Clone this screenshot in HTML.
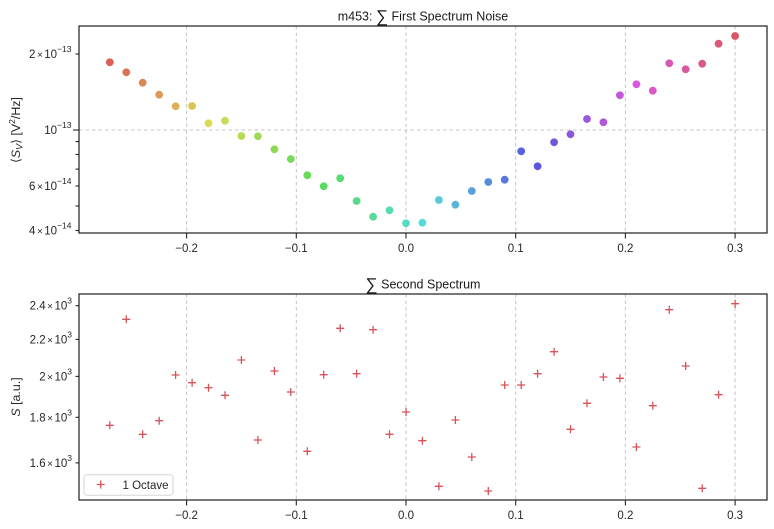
<!DOCTYPE html>
<html><head><meta charset="utf-8"><style>
html,body{margin:0;padding:0;background:#fff;}
svg{display:block;font-family:"Liberation Sans",Arial,sans-serif;}
</style></head><body>
<svg width="774" height="529" viewBox="0 0 774 529" xmlns="http://www.w3.org/2000/svg">
<rect width="774" height="529" fill="#fff"/>
<!-- ===== TOP AXES ===== -->
<g stroke="#c4c4c4" stroke-width="1" stroke-dasharray="3.5,3" fill="none">
<line x1="186.6" y1="26" x2="186.6" y2="233"/>
<line x1="296.3" y1="26" x2="296.3" y2="233"/>
<line x1="406" y1="26" x2="406" y2="233"/>
<line x1="515.7" y1="26" x2="515.7" y2="233"/>
<line x1="625.4" y1="26" x2="625.4" y2="233"/>
<line x1="735.1" y1="26" x2="735.1" y2="233"/>
<line x1="79" y1="130" x2="767" y2="130"/>
</g>
<g>
<circle cx="109.8" cy="62.3" r="3.9" fill="hsl(3.6,65%,60%)"/>
<circle cx="126.3" cy="72.3" r="3.9" fill="hsl(12.8,65%,60%)"/>
<circle cx="142.7" cy="82.7" r="3.9" fill="hsl(22.1,65%,60%)"/>
<circle cx="159.2" cy="94.7" r="3.9" fill="hsl(31.3,65%,60%)"/>
<circle cx="175.6" cy="106.3" r="3.9" fill="hsl(40.5,65%,60%)"/>
<circle cx="192.1" cy="106" r="3.9" fill="hsl(49.8,65%,60%)"/>
<circle cx="208.5" cy="123.3" r="3.9" fill="hsl(59.0,65%,60%)"/>
<circle cx="225.0" cy="120.7" r="3.9" fill="hsl(68.2,65%,60%)"/>
<circle cx="241.4" cy="136" r="3.9" fill="hsl(77.4,65%,60%)"/>
<circle cx="257.9" cy="136.3" r="3.9" fill="hsl(86.7,65%,60%)"/>
<circle cx="274.4" cy="149.3" r="3.9" fill="hsl(95.9,65%,60%)"/>
<circle cx="290.8" cy="159" r="3.9" fill="hsl(105.1,65%,60%)"/>
<circle cx="307.3" cy="175.3" r="3.9" fill="hsl(114.4,65%,60%)"/>
<circle cx="323.7" cy="186.3" r="3.9" fill="hsl(123.6,65%,60%)"/>
<circle cx="340.2" cy="178.3" r="3.9" fill="hsl(132.8,65%,60%)"/>
<circle cx="356.6" cy="201" r="3.9" fill="hsl(142.1,65%,60%)"/>
<circle cx="373.1" cy="216.7" r="3.9" fill="hsl(151.3,65%,60%)"/>
<circle cx="389.5" cy="210.3" r="3.9" fill="hsl(160.5,65%,60%)"/>
<circle cx="406.0" cy="223.3" r="3.9" fill="hsl(169.8,65%,60%)"/>
<circle cx="422.4" cy="222.7" r="3.9" fill="hsl(179.0,65%,60%)"/>
<circle cx="438.9" cy="200" r="3.9" fill="hsl(188.2,65%,60%)"/>
<circle cx="455.4" cy="204.7" r="3.9" fill="hsl(197.5,65%,60%)"/>
<circle cx="471.8" cy="191" r="3.9" fill="hsl(206.7,65%,60%)"/>
<circle cx="488.3" cy="182" r="3.9" fill="hsl(215.9,65%,60%)"/>
<circle cx="504.7" cy="179.7" r="3.9" fill="hsl(225.1,65%,60%)"/>
<circle cx="521.2" cy="151.3" r="3.9" fill="hsl(234.4,65%,60%)"/>
<circle cx="537.6" cy="166.3" r="3.9" fill="hsl(243.6,65%,60%)"/>
<circle cx="554.1" cy="142.3" r="3.9" fill="hsl(252.8,65%,60%)"/>
<circle cx="570.5" cy="134.3" r="3.9" fill="hsl(262.1,65%,60%)"/>
<circle cx="587.0" cy="119" r="3.9" fill="hsl(271.3,65%,60%)"/>
<circle cx="603.4" cy="122.3" r="3.9" fill="hsl(280.5,65%,60%)"/>
<circle cx="619.9" cy="95.3" r="3.9" fill="hsl(289.8,65%,60%)"/>
<circle cx="636.4" cy="84.3" r="3.9" fill="hsl(299.0,65%,60%)"/>
<circle cx="652.8" cy="90.7" r="3.9" fill="hsl(308.2,65%,60%)"/>
<circle cx="669.3" cy="63.3" r="3.9" fill="hsl(317.5,65%,60%)"/>
<circle cx="685.7" cy="69.3" r="3.9" fill="hsl(326.7,65%,60%)"/>
<circle cx="702.2" cy="63.7" r="3.9" fill="hsl(335.9,65%,60%)"/>
<circle cx="718.6" cy="43.7" r="3.9" fill="hsl(345.2,65%,60%)"/>
<circle cx="735.1" cy="36" r="3.9" fill="hsl(354.4,65%,60%)"/>
</g>
<rect x="79" y="26" width="688" height="207" fill="none" stroke="#262626" stroke-width="1.25"/>
<g stroke="#262626" stroke-width="1.1">
<line x1="186.6" y1="233" x2="186.6" y2="238.5"/>
<line x1="296.3" y1="233" x2="296.3" y2="238.5"/>
<line x1="406" y1="233" x2="406" y2="238.5"/>
<line x1="515.7" y1="233" x2="515.7" y2="238.5"/>
<line x1="625.4" y1="233" x2="625.4" y2="238.5"/>
<line x1="735.1" y1="233" x2="735.1" y2="238.5"/>
<line x1="73" y1="130" x2="79" y2="130"/>
<line x1="75.5" y1="54" x2="79" y2="54"/>
<line x1="75.5" y1="141.6" x2="79" y2="141.6"/>
<line x1="75.5" y1="154.5" x2="79" y2="154.5"/>
<line x1="75.5" y1="169.1" x2="79" y2="169.1"/>
<line x1="75.5" y1="186" x2="79" y2="186"/>
<line x1="75.5" y1="206" x2="79" y2="206"/>
<line x1="75.5" y1="230.5" x2="79" y2="230.5"/>
</g>
<g fill="#262626" font-size="11.5" text-anchor="middle">
<text x="186.6" y="252">−0.2</text>
<text x="296.3" y="252">−0.1</text>
<text x="406" y="252">0.0</text>
<text x="515.7" y="252">0.1</text>
<text x="625.4" y="252">0.2</text>
<text x="735.1" y="252">0.3</text>
</g>
<g fill="#262626" font-size="11.5" text-anchor="end">
<text x="71.5" y="58">2<tspan dx="1.5" font-size="10">×</tspan><tspan dx="1.5">10</tspan><tspan dy="-6" font-size="8.5">−13</tspan></text>
<text x="71.5" y="134">10<tspan dy="-6" font-size="8.5">−13</tspan></text>
<text x="71.5" y="190">6<tspan dx="1.5" font-size="10">×</tspan><tspan dx="1.5">10</tspan><tspan dy="-6" font-size="8.5">−14</tspan></text>
<text x="71.5" y="234.5">4<tspan dx="1.5" font-size="10">×</tspan><tspan dx="1.5">10</tspan><tspan dy="-6" font-size="8.5">−14</tspan></text>
</g>
<text transform="translate(20,130) rotate(-90)" text-anchor="middle" fill="#262626" font-size="12.4">⟨<tspan font-style="italic">S</tspan><tspan font-size="9" dy="2.5" font-style="italic">V</tspan><tspan dy="-2.5">⟩ [V</tspan><tspan font-size="8.5" dy="-5">2</tspan><tspan dy="5">/Hz]</tspan></text>
<text x="423" y="20.5" text-anchor="middle" fill="#1a1a1a" font-size="12.5">m453: <tspan font-size="17" dy="1.5">∑</tspan><tspan dy="-1.5"> First Spectrum Noise</tspan></text>

<!-- ===== BOTTOM AXES ===== -->
<g stroke="#c4c4c4" stroke-width="1" stroke-dasharray="3.5,3" fill="none">
<line x1="186.6" y1="294" x2="186.6" y2="500"/>
<line x1="296.3" y1="294" x2="296.3" y2="500"/>
<line x1="406" y1="294" x2="406" y2="500"/>
<line x1="515.7" y1="294" x2="515.7" y2="500"/>
<line x1="625.4" y1="294" x2="625.4" y2="500"/>
<line x1="735.1" y1="294" x2="735.1" y2="500"/>
</g>
<path fill="none" stroke="#d9535a" stroke-width="1.3" d="
M105.8 425.3h8M109.8 421.3v8
M122.3 319.3h8M126.3 315.3v8
M138.7 434.3h8M142.7 430.3v8
M155.2 420.7h8M159.2 416.7v8
M171.6 375h8M175.6 371v8
M188.1 382.7h8M192.1 378.7v8
M204.5 387.7h8M208.5 383.7v8
M221.0 395.3h8M225.0 391.3v8
M237.4 360h8M241.4 356v8
M253.9 440h8M257.9 436v8
M270.4 371h8M274.4 367v8
M286.8 392h8M290.8 388v8
M303.3 451.3h8M307.3 447.3v8
M319.7 374.7h8M323.7 370.7v8
M336.2 328.3h8M340.2 324.3v8
M352.6 373.7h8M356.6 369.7v8
M369.1 329.7h8M373.1 325.7v8
M385.5 434.3h8M389.5 430.3v8
M402.0 412h8M406.0 408v8
M418.4 440.7h8M422.4 436.7v8
M434.9 486.3h8M438.9 482.3v8
M451.4 420h8M455.4 416v8
M467.8 457h8M471.8 453v8
M484.3 491h8M488.3 487v8
M500.7 385h8M504.7 381v8
M517.2 385h8M521.2 381v8
M533.6 373.7h8M537.6 369.7v8
M550.1 351.7h8M554.1 347.7v8
M566.5 429.3h8M570.5 425.3v8
M583.0 403.3h8M587.0 399.3v8
M599.4 377h8M603.4 373v8
M615.9 378.3h8M619.9 374.3v8
M632.4 447h8M636.4 443v8
M648.8 405.7h8M652.8 401.7v8
M665.3 309.7h8M669.3 305.7v8
M681.7 366h8M685.7 362v8
M698.2 488.3h8M702.2 484.3v8
M714.6 394.7h8M718.6 390.7v8
M731.1 303.7h8M735.1 299.7v8
"/>
<rect x="79" y="294" width="688" height="206" fill="none" stroke="#262626" stroke-width="1.25"/>
<g stroke="#262626" stroke-width="1.1">
<line x1="186.6" y1="500" x2="186.6" y2="505.5"/>
<line x1="296.3" y1="500" x2="296.3" y2="505.5"/>
<line x1="406" y1="500" x2="406" y2="505.5"/>
<line x1="515.7" y1="500" x2="515.7" y2="505.5"/>
<line x1="625.4" y1="500" x2="625.4" y2="505.5"/>
<line x1="735.1" y1="500" x2="735.1" y2="505.5"/>
<line x1="75.5" y1="305.7" x2="79" y2="305.7"/>
<line x1="75.5" y1="339.4" x2="79" y2="339.4"/>
<line x1="75.5" y1="376.4" x2="79" y2="376.4"/>
<line x1="75.5" y1="417.3" x2="79" y2="417.3"/>
<line x1="75.5" y1="462.9" x2="79" y2="462.9"/>
</g>
<g fill="#262626" font-size="11.5" text-anchor="middle">
<text x="186.6" y="519">−0.2</text>
<text x="296.3" y="519">−0.1</text>
<text x="406" y="519">0.0</text>
<text x="515.7" y="519">0.1</text>
<text x="625.4" y="519">0.2</text>
<text x="735.1" y="519">0.3</text>
</g>
<g fill="#262626" font-size="11.5" text-anchor="end">
<text x="72" y="309.7">2.4<tspan dx="1.5" font-size="10">×</tspan><tspan dx="1.5">10</tspan><tspan dy="-6" font-size="8.5">3</tspan></text>
<text x="72" y="343.4">2.2<tspan dx="1.5" font-size="10">×</tspan><tspan dx="1.5">10</tspan><tspan dy="-6" font-size="8.5">3</tspan></text>
<text x="72" y="380.4">2<tspan dx="1.5" font-size="10">×</tspan><tspan dx="1.5">10</tspan><tspan dy="-6" font-size="8.5">3</tspan></text>
<text x="72" y="421.3">1.8<tspan dx="1.5" font-size="10">×</tspan><tspan dx="1.5">10</tspan><tspan dy="-6" font-size="8.5">3</tspan></text>
<text x="72" y="466.9">1.6<tspan dx="1.5" font-size="10">×</tspan><tspan dx="1.5">10</tspan><tspan dy="-6" font-size="8.5">3</tspan></text>
</g>
<text transform="translate(20,397) rotate(-90)" text-anchor="middle" fill="#262626" font-size="12.4"><tspan font-style="italic">S</tspan> [a.u.]</text>
<text x="423" y="288.5" text-anchor="middle" fill="#1a1a1a" font-size="12.5"><tspan font-size="17" dy="1.5">∑</tspan><tspan dy="-1.5"> Second Spectrum</tspan></text>

<!-- legend -->
<rect x="84" y="474.7" width="89" height="20.5" rx="3" ry="3" fill="#fff" fill-opacity="0.85" stroke="#d6d6d6" stroke-width="1"/>
<path fill="none" stroke="#d9535a" stroke-width="1.3" d="M96.7 484.5h8M100.7 480.5v8"/>
<text x="122.5" y="489" fill="#262626" font-size="11.5">1 Octave</text>
</svg>
</body></html>
